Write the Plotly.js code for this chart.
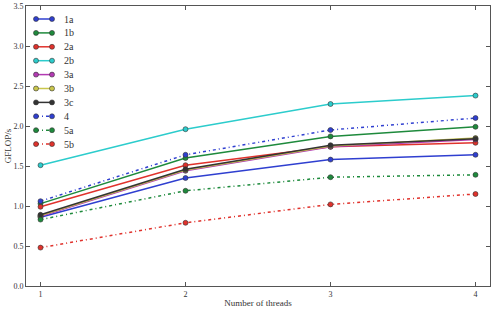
<!DOCTYPE html>
<html><head><meta charset="utf-8">
<script src="https://cdn.plot.ly/plotly-3.0.1.min.js"></script>
<style>html,body{margin:0;padding:0;background:#fff}#chart{width:501px;height:311px}</style>
</head><body><div id="chart"></div>
<script>
const threads = [1, 2, 3, 4];
const seriesNames = ['1a','1b','2a','2b','3a','3b','3c','4','5a','5b'];
const v1a = [0.86, 1.35, 1.58, 1.64];
const v1b = [1.03, 1.60, 1.87, 1.99];
const v2a = [0.99, 1.51, 1.74, 1.79];
const v2b = [1.51, 1.96, 2.275, 2.38];
const v3a = [0.87, 1.44, 1.74, 1.83];
const v3b = [0.88, 1.45, 1.75, 1.85];
const v3c = [0.89, 1.46, 1.76, 1.84];
const v4  = [1.06, 1.64, 1.95, 2.10];
const v5a = [0.83, 1.19, 1.36, 1.39];
const v5b = [0.48, 0.79, 1.02, 1.15];
const values = [v1a,v1b,v2a,v2b,v3a,v3b,v3c,v4,v5a,v5b];
const colors = ['#2f3fd0','#1e8a3c','#e0322c','#2ccccc','#b23ab2','#c9c64c','#333333','#2f3fd0','#1e8a3c','#e0322c'];
const dashes = ['solid','solid','solid','solid','solid','solid','solid','3px,3px,1px,3px','3px,3px,1px,3px','3px,3px,1px,3px'];
const traces = seriesNames.map((n,i)=>({
  x: threads, y: values[i], name: n, type:'scatter', mode:'lines+markers',
  line:{color:colors[i], width:1.5, dash:dashes[i]},
  marker:{color:colors[i], size:5, line:{color:'#333', width:0.6}},
  showlegend:false
}));
const font = {family:'Liberation Serif, DejaVu Serif, serif', color:'#333'};

// Compact legend (matplotlib-style spacing) drawn in paper coordinates
const W=501, H=311, mL=26, mR=11, mT=6, mB=25;
const pw=W-mL-mR, ph=H-mT-mB;
const px=x=>(x-mL)/pw, py=y=>1-(y-mT)/ph;
const shapes=[], annotations=[];
seriesNames.forEach((n,i)=>{
  const y=19+13.9*i;
  shapes.push({type:'line', xref:'paper', yref:'paper', x0:px(36), x1:px(52), y0:py(y), y1:py(y),
    line:{color:colors[i], width:1.5, dash:dashes[i]}});
  [36,52].forEach(cx=>shapes.push({type:'circle', xref:'paper', yref:'paper',
    x0:px(cx-2.5), x1:px(cx+2.5), y0:py(y+2.5), y1:py(y-2.5),
    fillcolor:colors[i], line:{color:'#333', width:0.6}}));
  annotations.push({xref:'paper', yref:'paper', x:px(62), y:py(y), xanchor:'left', yanchor:'middle',
    text:n, showarrow:false, font:Object.assign({size:10}, font)});
});

const layout = {
  width:W, height:H,
  margin:{l:mL, r:mR, t:mT, b:mB},
  paper_bgcolor:'#fff', plot_bgcolor:'#fff',
  font:Object.assign({size:8}, font),
  showlegend:false,
  shapes:shapes, annotations:annotations,
  xaxis:{range:[0.9,4.1], tickvals:threads, ticktext:['1','2','3','4'], showgrid:false, zeroline:false,
    showline:true, linecolor:'#555', linewidth:1, mirror:'ticks', ticks:'inside', ticklen:4, tickcolor:'#555',
    tickfont:Object.assign({size:8}, font),
    title:{text:'Number of threads', font:Object.assign({size:9}, font), standoff:2}},
  yaxis:{range:[0,3.5], dtick:0.5, tickformat:'.1f', showgrid:false, zeroline:false,
    showline:true, linecolor:'#555', linewidth:1, mirror:'ticks', ticks:'inside', ticklen:4, tickcolor:'#555',
    tickfont:Object.assign({size:8}, font),
    title:{text:'GFLOP/s', font:Object.assign({size:9}, font), standoff:0}}
};
Plotly.newPlot('chart', traces, layout, {displayModeBar:false, staticPlot:true});
</script></body></html>
